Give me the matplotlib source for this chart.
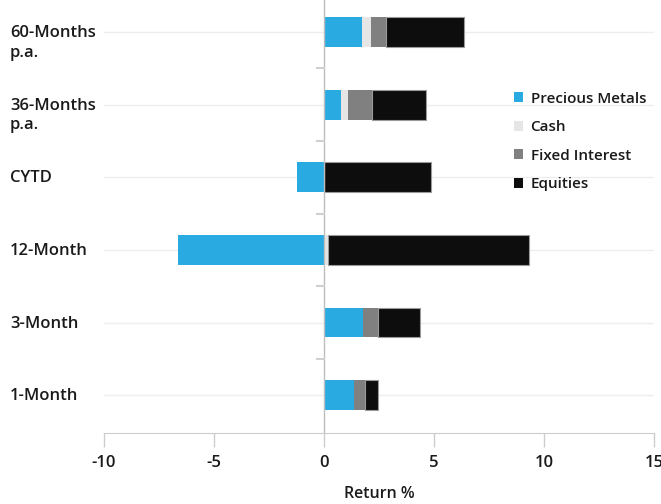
import matplotlib.pyplot as plt
import matplotlib.transforms as mtransforms
import numpy as np

plt.rcParams['font.family'] = ['Open Sans', 'DejaVu Sans']

categories = ['60-Months\np.a.', '36-Months\np.a.', 'CYTD', '12-Month', '3-Month', '1-Month']
series = ['Precious Metals', 'Cash', 'Fixed Interest', 'Equities']
colors = ['#29abe2', '#e6e6e6', '#808080', '#0d0d0d']

precious = [1.73, 0.79, -1.23, -6.65, 1.79, 1.36]
cash = [0.39, 0.32, 0.0, 0.2, 0.0, 0.0]
fixed = [0.71, 1.09, 0.0, 0.0, 0.67, 0.49]
equities = [3.52, 2.43, 4.86, 9.14, 1.91, 0.6]

values = [precious, cash, fixed, equities]

fig = plt.figure(figsize=(6.61, 5.04), dpi=100)
ax = fig.add_axes([104 / 661, 1 - 433 / 504, 550 / 661, 433 / 504])

y = np.arange(len(categories))
pos = np.zeros(len(categories))
neg = np.zeros(len(categories))
for name, vals, c in zip(series, values, colors):
    vals = np.array(vals)
    left = np.where(vals >= 0, pos, neg)
    ec = '#9a9a9a' if name == 'Equities' else 'none'
    ax.barh(y, vals, left=left, height=0.41, color=c, edgecolor=ec,
            linewidth=0.8, label=name, zorder=3)
    pos = pos + np.where(vals >= 0, vals, 0)
    neg = neg + np.where(vals < 0, vals, 0)

ax.set_xlim(-10, 15)
ax.set_ylim(5.52, -0.44)
ax.set_xticks([-10, -5, 0, 5, 10, 15])
ax.set_xticklabels(['-10', '-5', '0', '5', '10', '15'])

for v in y:
    ax.axhline(v, color='#eeeeee', lw=1, zorder=0)

ax.axvline(0, color='#bdbdbd', lw=1, zorder=4)
for b in y[:-1] + 0.5:
    ax.plot([-0.3, 0], [b, b], color='#d0d0d0', lw=1.5, zorder=4, clip_on=False)

for s in ['top', 'right', 'left']:
    ax.spines[s].set_visible(False)
ax.spines['bottom'].set_color('#cccccc')
ax.tick_params(axis='x', colors='#cccccc', length=10, width=1, labelcolor='#1a1a1a',
               labelsize=12, pad=6)
for t in ax.get_xticklabels():
    t.set_fontweight('semibold')
ax.set_yticks([])
ax.set_xlabel('Return %', fontsize=11.5, fontweight='semibold', color='#1a1a1a', labelpad=11)

trans = mtransforms.blended_transform_factory(fig.transFigure, ax.transData)
trans = mtransforms.offset_copy(trans, fig=fig, x=0, y=5, units='points')
for v, lab in zip(y, categories):
    ax.text(10 / 661, v, lab, transform=trans, ha='left', va='top',
            fontsize=12, fontweight='semibold', color='#1a1a1a', linespacing=1.3)

leg = ax.legend(loc='upper left', bbox_to_anchor=(0.72, 0.82), frameon=False,
                handlelength=0.6, handleheight=0.6, handletextpad=0.5,
                labelspacing=0.95, fontsize=11)
for t in leg.get_texts():
    t.set_fontweight('semibold')
    t.set_color('#1a1a1a')
for h in leg.legend_handles:
    h.set_edgecolor('none')

fig.savefig('out.png', dpi=100)
